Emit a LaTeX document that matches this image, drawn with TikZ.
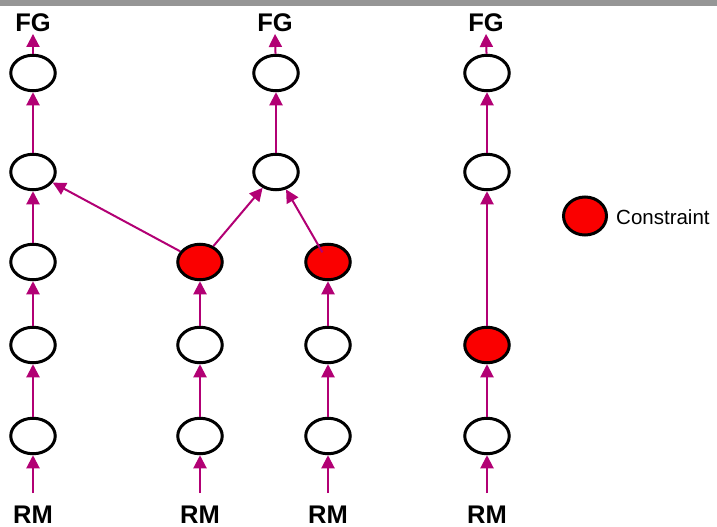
\documentclass[tikz,border=0pt]{standalone}
\usepackage{fontspec}
\setmainfont{Liberation Sans}
\usetikzlibrary{arrows.meta,shapes.geometric}
\definecolor{arr}{RGB}{178,0,116}
\definecolor{cred}{RGB}{250,0,0}
\definecolor{bar}{RGB}{150,150,150}
\begin{document}
\begin{tikzpicture}[x=1pt,y=-1pt,
  st/.style={ellipse,draw=black,line width=3pt,fill=white,minimum width=44.5pt,minimum height=35.5pt,inner sep=0pt},
  rd/.style={st,fill=cred},
  con/.style={draw=arr,line width=2pt,-{Triangle[length=13pt,width=13pt]}},
  lab/.style={font=\fontsize{25.5}{25.5}\selectfont\bfseries,inner sep=0pt,anchor=base}]
\useasboundingbox (0,0) rectangle (717,527);
\fill[bar] (0,0) rectangle (717,6);
% column 1
\node[st] (c1a) at (33,73) {};
\node[st] (c1b) at (33,172) {};
\node[st] (c1c) at (33,262) {};
\node[st] (c1d) at (33,345) {};
\node[st] (c1e) at (33,436) {};
% middle
\node[st] (t1) at (276,73) {};
\node[st] (t2) at (276,172) {};
\node[rd] (r1) at (200,262) {};
\node[st] (c2d) at (200,345) {};
\node[st] (c2e) at (200,436) {};
\node[rd] (r2) at (328,262) {};
\node[st] (c3d) at (328,345) {};
\node[st] (c3e) at (328,436) {};
% column 4
\node[st] (d1) at (487,73) {};
\node[st] (d2) at (487,172) {};
\node[rd] (r3) at (487,345) {};
\node[st] (d4) at (487,436) {};
% legend
\node[rd,minimum width=43pt,minimum height=38pt] (leg) at (585,216) {};
\node[font=\fontsize{20.5}{20.5}\selectfont,inner sep=0pt,anchor=base west] (legt) at (616,224) {Constraint};
% labels
\node[lab] (fg1) at (33,32) {FG};
\node[lab] (fg2) at (275,32) {FG};
\node[lab] (fg3) at (486,32) {FG};
\node[lab] (rm1) at (33,523) {RM};
\node[lab] (rm2) at (200,523) {RM};
\node[lab] (rm3) at (328,523) {RM};
\node[lab] (rm4) at (487,523) {RM};
\coordinate (b1) at (33,493);
\coordinate (b2) at (200,493);
\coordinate (b3) at (328,493);
\coordinate (b4) at (487,493);
% connectors
\draw[con] (b1) -- (c1e);
\draw[con] (c1e) -- (c1d);
\draw[con] (c1d) -- (c1c);
\draw[con] (c1c) -- (c1b);
\draw[con] (c1b) -- (c1a);
\draw[con,shorten >=1.5pt] (c1a) -- (fg1.south);
\draw[con] (b2) -- (c2e);
\draw[con] (c2e) -- (c2d);
\draw[con] (c2d) -- (r1);
\draw[con] (b3) -- (c3e);
\draw[con] (c3e) -- (c3d);
\draw[con] (c3d) -- (r2);
\draw[con] (r1) -- (c1b);
\draw[con] (r1) -- (t2);
\draw[con,shorten <=-9pt] (r2) -- (t2);
\draw[con] (t2) -- (t1);
\draw[con,shorten >=1.5pt] (t1) -- (fg2.south);
\draw[con] (b4) -- (d4);
\draw[con] (d4) -- (r3);
\draw[con] (r3) -- (d2);
\draw[con] (d2) -- (d1);
\draw[con,shorten >=1.5pt] (d1) -- (fg3.south);
\end{tikzpicture}
\end{document}
